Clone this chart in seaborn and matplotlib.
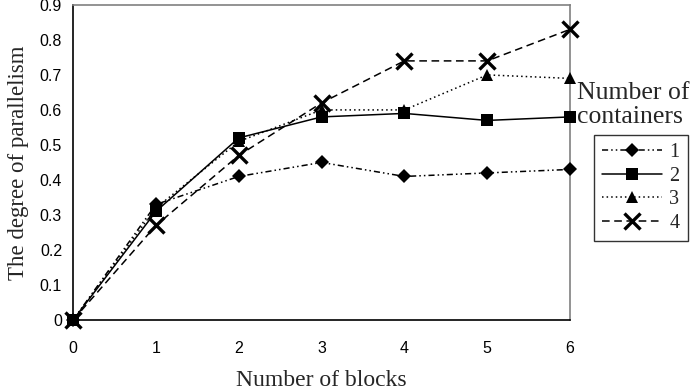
import matplotlib
matplotlib.use("Agg")
import matplotlib.pyplot as plt
import seaborn as sns
import pandas as pd
from matplotlib.lines import Line2D

# values
blocks = [0, 1, 2, 3, 4, 5, 6]
containers_1 = [0, 0.33, 0.41, 0.45, 0.41, 0.42, 0.43]
containers_2 = [0, 0.31, 0.52, 0.58, 0.59, 0.57, 0.58]
containers_3 = [0, 0.32, 0.51, 0.60, 0.60, 0.70, 0.69]
containers_4 = [0, 0.27, 0.47, 0.62, 0.74, 0.74, 0.83]
series_labels = ["1", "2", "3", "4"]

sns.set_style("white")
plt.rcParams["font.family"] = ["Liberation Serif", "DejaVu Serif"]

fig = plt.figure(figsize=(6.93, 3.9), dpi=100)
ax = fig.add_axes([0.1055, 0.1795, 0.717, 0.808])

styles = [
    dict(linestyle=(0, (4, 2, 1, 2, 1, 2)), marker="D", markersize=7.5, mew=0),
    dict(linestyle="-", marker="s", markersize=8.5, mew=0),
    dict(linestyle=(0, (1, 2)), marker="^", markersize=9, mew=0),
    dict(linestyle=(0, (5, 3)), marker="x", markersize=11, mew=2.4),
]
all_values = [containers_1, containers_2, containers_3, containers_4]

handles = []
for vals, lab, st in zip(all_values, series_labels, styles):
    df = pd.DataFrame({"blocks": blocks, "value": vals})
    sns.lineplot(data=df, x="blocks", y="value", ax=ax, color="black",
                 linewidth=1.1, linestyle=st["linestyle"], marker=st["marker"],
                 markersize=st["markersize"], markeredgewidth=st["mew"],
                 markeredgecolor="black", clip_on=False, zorder=3)
    handles.append(Line2D([], [], color="black", linewidth=1.1,
                          linestyle=st["linestyle"], marker=st["marker"],
                          markersize=st["markersize"], markeredgewidth=st["mew"],
                          markeredgecolor="black"))

ax.set_xlim(0, 6)
ax.set_ylim(0, 0.9)
ax.set_xticks(blocks)
ax.set_yticks([0, 0.1, 0.2, 0.3, 0.4, 0.5, 0.6, 0.7, 0.8, 0.9])
ax.set_yticklabels(["0", "0.1", "0.2", "0.3", "0.4", "0.5", "0.6", "0.7", "0.8", "0.9"])
ax.tick_params(direction="in", length=4, width=1, colors="black", labelsize=11.5, pad=15)
ax.tick_params(axis="y", pad=8)
for t in ax.get_xticklabels() + ax.get_yticklabels():
    t.set_family(["Liberation Sans", "DejaVu Sans"])

for side in ["left", "bottom"]:
    ax.spines[side].set_color("black")
    ax.spines[side].set_linewidth(1.2)
for side in ["top", "right"]:
    ax.spines[side].set_color("#808080")
    ax.spines[side].set_linewidth(1.2)

ax.set_xlabel("Number of blocks", fontsize=17, labelpad=10)
ax.set_ylabel("The degree of parallelism", fontsize=16.5, labelpad=8)

fig.text(0.832, 0.73, "Number of\ncontainers", fontsize=18.5, ha="left", va="center",
         linespacing=1.1)
leg = fig.legend(handles, series_labels, loc="upper left",
                 bbox_to_anchor=(0.857, 0.654), borderaxespad=0, frameon=True,
                 fancybox=False, fontsize=14.5, handlelength=3.0, handletextpad=0.35,
                 labelspacing=0.22, borderpad=0.4, edgecolor="black")
leg.get_frame().set_linewidth(1.0)

fig.savefig("out.png", dpi=100)
